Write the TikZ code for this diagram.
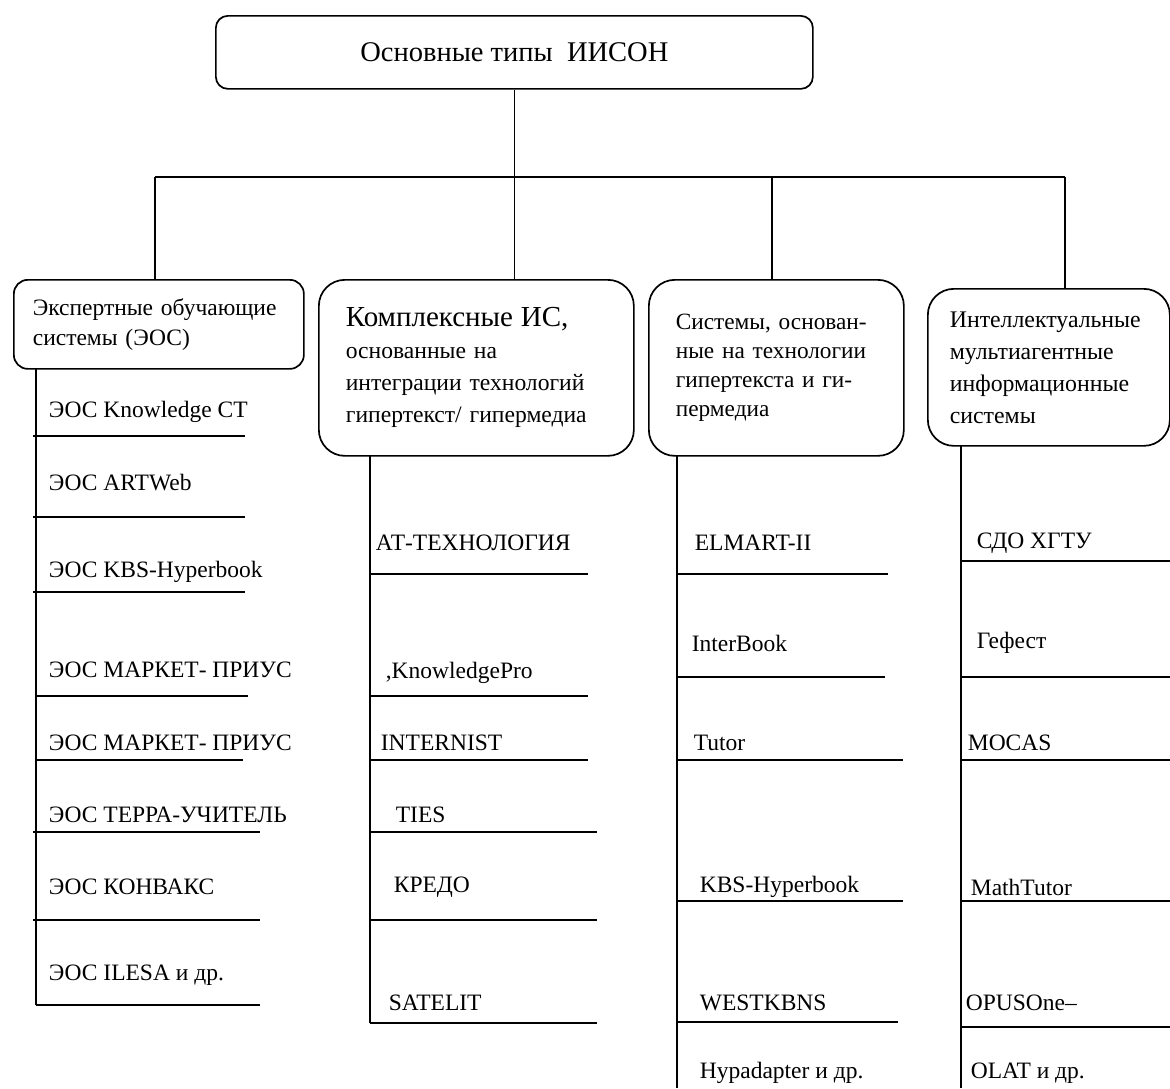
\documentclass[tikz,border=0pt]{standalone}
\usepackage{fontspec}
\setmainfont{Liberation Serif}
\begin{document}
\begin{tikzpicture}[x=1pt,y=-1pt,line width=1.7pt,
  box/.style={draw,rounded corners=#1,anchor=north west,inner sep=0pt,align=left},
  item/.style={anchor=west,inner sep=0pt,font=\fontsize{23.5}{27}\selectfont}]
\useasboundingbox (0,0) rectangle (1170,1088);

% top box
\node[box=12pt,minimum width=597pt,minimum height=73pt,align=center,
      font=\fontsize{28.5}{32}\selectfont] (top) at (215,15) {Основные типы\ \ ИИСОН};

% category boxes
\node[box=14pt,minimum width=290pt,minimum height=89pt,text width=252pt,
      font=\fontsize{23.5}{30}\selectfont] (b1) at (13,279)
  {Экспертные обучающие\\системы (ЭОС)};
\node[box=26pt,minimum width=315pt,minimum height=176pt,text width=261pt,
      font=\fontsize{23.6}{32}\selectfont] (b2) at (318,279)
  {{\fontsize{29}{32}\selectfont Комплексные ИС,}\\основанные на\\интеграции технологий\\гипертекст/ гипермедиа};
\node[box=26pt,minimum width=255pt,minimum height=176pt,text width=201pt,
      font=\fontsize{23.3}{29}\selectfont] (b3) at (648,279)
  {Системы, основан-\\ные на технологии\\гипертекста и ги-\\пермедиа};
\node[box=26pt,minimum width=242pt,minimum height=157pt,text width=198pt,
      font=\fontsize{23.8}{32}\selectfont] (b4) at (927,288)
  {Интеллектуальные\\мультиагентные\\информационные\\системы};

% bus
\coordinate (busL) at (155,177);
\coordinate (busR) at (1065,177);
\draw (busL) -- (busR);
\draw (top.south) -- (top.south |- busL);
\draw (busL) -- (busL |- b1.north);
\draw (top.south |- busL) -- (b2.north -| top.south);
\coordinate (d3) at (772,177);
\draw (d3) -- (d3 |- b3.north);
\draw (busR) -- (busR |- b4.north);

% column spines
\coordinate (c1t) at (36,368);  \coordinate (c1b) at (36,1005);
\coordinate (c2t) at (370,455); \coordinate (c2b) at (370,1023);
\coordinate (c3t) at (677,455); \coordinate (c3b) at (677,1088);
\coordinate (c4t) at (961,445); \coordinate (c4b) at (961,1088);
\draw (c1t) -- (c1b);
\draw (c2t) -- (c2b);
\draw (c3t) -- (c3b);
\draw (c4t) -- (c4b);

% column 1
\foreach \n/\t/\y/\ly/\la/\lb in {
  1/{ЭОС Knowledge CT}/412/436/33/245,
  2/{ЭОС ARTWeb}/483/517/33/245,
  3/{ЭОС KBS-Hyperbook}/572/592/33/245,
  4/{ЭОС МАРКЕТ- ПРИУС}/670/696/36/248,
  5/{ЭОС МАРКЕТ- ПРИУС}/743/760/36/243,
  6/{ЭОС ТЕРРА-УЧИТЕЛЬ}/815/832/33/260,
  7/{ЭОС КОНВАКС}/887/920/33/260,
  8/{ЭОС ILESA и др.}/975/1005/36/260}{
  \node[item] (a\n) at (48,\y) {\t};
  \draw (\la,\ly) -- (\lb,\ly);
}

% column 2
\foreach \n/\t/\x/\y/\ly/\lb in {
  1/{АТ-ТЕХНОЛОГИЯ}/375/543/574/588,
  2/{,KnowledgePro}/385/673/696/588,
  3/{INTERNIST}/380/743/760/588,
  4/{TIES}/395/815/832/597,
  5/{КРЕДО}/393/887/920/597,
  6/{SATELIT}/388/1003/1023/597}{
  \node[item] (k\n) at (\x,\y) {\t};
  \draw (370,\ly) -- (\lb,\ly);
}

% column 3
\foreach \n/\t/\x/\y/\ly/\lb in {
  1/{ELMART-II}/694/543/574/888,
  2/{InterBook}/691/643/677/885,
  3/{Tutor}/693/743/760/903,
  4/{KBS-Hyperbook}/699/887/901/903,
  5/{WESTKBNS}/699/1003/1022/898}{
  \node[item] (s\n) at (\x,\y) {\t};
  \draw (677,\ly) -- (\lb,\ly);
}
\node[item] (s6) at (699,1073) {Hypadapter и др.};

% column 4
\foreach \n/\t/\x/\y/\ly in {
  1/{СДО ХГТУ}/976/543/561,
  2/{Гефест}/976/643/677,
  3/{MOCAS}/967/743/760,
  4/{MathTutor}/970/887/901,
  5/{OPUSOne–}/965/1003/1027}{
  \node[item] (m\n) at (\x,\y) {\t};
  \draw (961,\ly) -- (1170,\ly);
}
\node[item] (m6) at (970,1073) {OLAT и др.};
\end{tikzpicture}
\end{document}
